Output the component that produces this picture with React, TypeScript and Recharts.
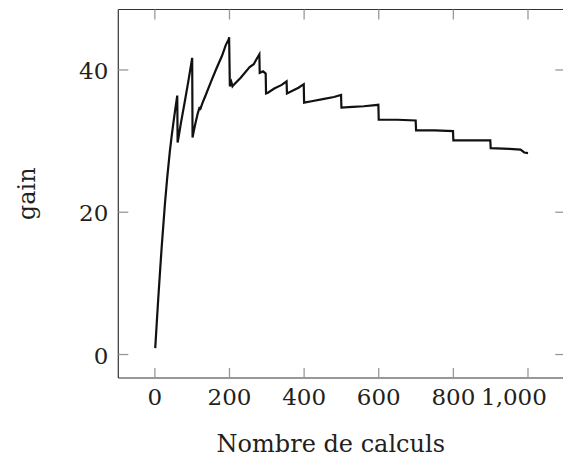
import React from 'react';
import { LineChart, Line, XAxis, YAxis } from 'recharts';

// number of computations (x) and gain (y)
const calcs = [
  1, 5, 9, 14, 18, 23, 27, 33, 40, 45, 50, 55, 60, 61, 65, 70, 80, 90, 100, 101, 105, 110, 115, 120, 121,
  128, 135, 150, 165, 180, 190, 198, 199, 201, 205, 208, 211, 230, 254, 265, 270, 280, 281, 290, 297,
  298, 303, 320, 340, 353, 354, 370, 385, 399, 400, 420, 450, 480, 499, 500, 530, 560, 599, 600, 650,
  699, 700, 750, 799, 800, 850, 899, 900, 950, 980, 990, 1000,
];
const gain = [
  0.9, 4.4, 7.8, 11.8, 14.9, 18.4, 21.2, 24.8, 28.5, 30.7, 32.7, 34.6, 36.4, 29.8, 31.0, 32.6, 35.5,
  38.5, 41.7, 30.5, 31.6, 32.8, 33.9, 34.8, 34.4, 35.4, 36.3, 38.3, 40.2, 42.0, 43.5, 44.3, 44.6, 37.7,
  38.3, 37.7, 37.9, 38.9, 40.4, 40.8, 41.3, 42.2, 39.6, 39.8, 39.5, 36.7, 36.8, 37.4, 37.9, 38.4, 36.7,
  37.1, 37.5, 38.0, 35.4, 35.6, 35.9, 36.2, 36.5, 34.7, 34.8, 34.9, 35.1, 33.0, 33.0, 32.9, 31.5, 31.5,
  31.4, 30.1, 30.1, 30.1, 29.0, 28.9, 28.8, 28.4, 28.3,
];

const xTicks = [0, 200, 400, 600, 800, 1000];
const yTicks = [0, 20, 40];
const xDomain = [-98, 1100];
const yDomain = [-3.3, 48.5];

const data = calcs.map((c, i) => ({ calcs: c, gain: gain[i] }));

const FONT = 'DejaVu Serif';
const TEXT = '#231f20';
const TICK = '#999';
const AXIS = '#333';

const fmt = (v: number) => v.toLocaleString('en-US');

const BottomTick = (props: any) => {
  const { x, y, payload } = props;
  // the last label sits a bit left of its tick in the original
  const dx = payload.value === 1000 ? -14 : 0;
  return (
    <g>
      <line x1={x} x2={x} y1={y} y2={y - 10} stroke={TICK} strokeWidth={1.3} />
      <text x={x + dx} y={y + 27} textAnchor="middle" fontFamily={FONT} fontSize={23} fill={TEXT}>
        {fmt(payload.value)}
      </text>
    </g>
  );
};

const LeftTick = (props: any) => {
  const { x, y, payload } = props;
  return (
    <g>
      <line x1={x} x2={x + 10} y1={y} y2={y} stroke={TICK} strokeWidth={1.3} />
      <text x={x - 10} y={y + 9} textAnchor="end" fontFamily={FONT} fontSize={23} fill={TEXT}>
        {fmt(payload.value)}
      </text>
    </g>
  );
};

const TopTick = (props: any) => {
  const { x, y } = props;
  return <line x1={x} x2={x} y1={y} y2={y + 10} stroke={TICK} strokeWidth={1.3} />;
};

const RightTick = (props: any) => {
  const { x, y } = props;
  return <line x1={x} x2={x - 10} y1={y} y2={y} stroke={TICK} strokeWidth={1.3} />;
};

const XLabel = ({ viewBox }: any) => (
  <text
    x={viewBox.x + viewBox.width / 2 - 11}
    y={viewBox.y + 74}
    textAnchor="middle"
    fontFamily={FONT}
    fontSize={24}
    fill={TEXT}
  >
    Nombre de calculs
  </text>
);

const YLabel = ({ viewBox }: any) => {
  const cx = 27;
  const cy = viewBox.y + viewBox.height / 2;
  return (
    <text
      x={cx}
      y={cy}
      transform={`rotate(-90, ${cx}, ${cy})`}
      textAnchor="middle"
      dominantBaseline="central"
      fontFamily={FONT}
      fontSize={24}
      fill={TEXT}
    >
      gain
    </text>
  );
};

export default function App() {
  return (
    <div style={{ position: 'absolute', left: 0, top: 0, width: 563, height: 457, overflow: 'hidden', background: '#fff' }}>
      <LineChart width={590} height={457} data={data} margin={{ top: 9.5, right: 24.7, left: 0, bottom: 0 }}>
        <XAxis
          xAxisId="bottom"
          dataKey="calcs"
          type="number"
          domain={xDomain}
          ticks={xTicks}
          height={79}
          tickSize={0}
          tickMargin={0}
          tickLine={false}
          axisLine={{ stroke: AXIS, strokeWidth: 1.2 }}
          tick={<BottomTick />}
          label={<XLabel />}
        />
        <XAxis
          xAxisId="top"
          orientation="top"
          dataKey="calcs"
          type="number"
          domain={xDomain}
          ticks={xTicks}
          mirror
          tickSize={0}
          tickMargin={0}
          tickLine={false}
          tick={<TopTick />}
          axisLine={{ stroke: AXIS, strokeWidth: 1.2 }}
        />
        <YAxis
          yAxisId="left"
          type="number"
          domain={yDomain}
          ticks={yTicks}
          width={118.3}
          tickSize={0}
          tickMargin={0}
          tickLine={false}
          axisLine={{ stroke: AXIS, strokeWidth: 1.2 }}
          tick={<LeftTick />}
          label={<YLabel />}
        />
        <YAxis
          yAxisId="right"
          orientation="right"
          type="number"
          domain={yDomain}
          ticks={yTicks}
          mirror
          tickSize={0}
          tickMargin={0}
          tickLine={false}
          tick={<RightTick />}
          axisLine={{ stroke: AXIS, strokeWidth: 1.2 }}
        />
        <Line
          xAxisId="bottom"
          yAxisId="left"
          type="linear"
          dataKey="gain"
          stroke="#111"
          strokeWidth={2.2}
          dot={false}
          isAnimationActive={false}
        />
        <Line
          xAxisId="top"
          yAxisId="right"
          type="linear"
          dataKey="gain"
          stroke="none"
          dot={false}
          activeDot={false}
          isAnimationActive={false}
        />
      </LineChart>
    </div>
  );
}
